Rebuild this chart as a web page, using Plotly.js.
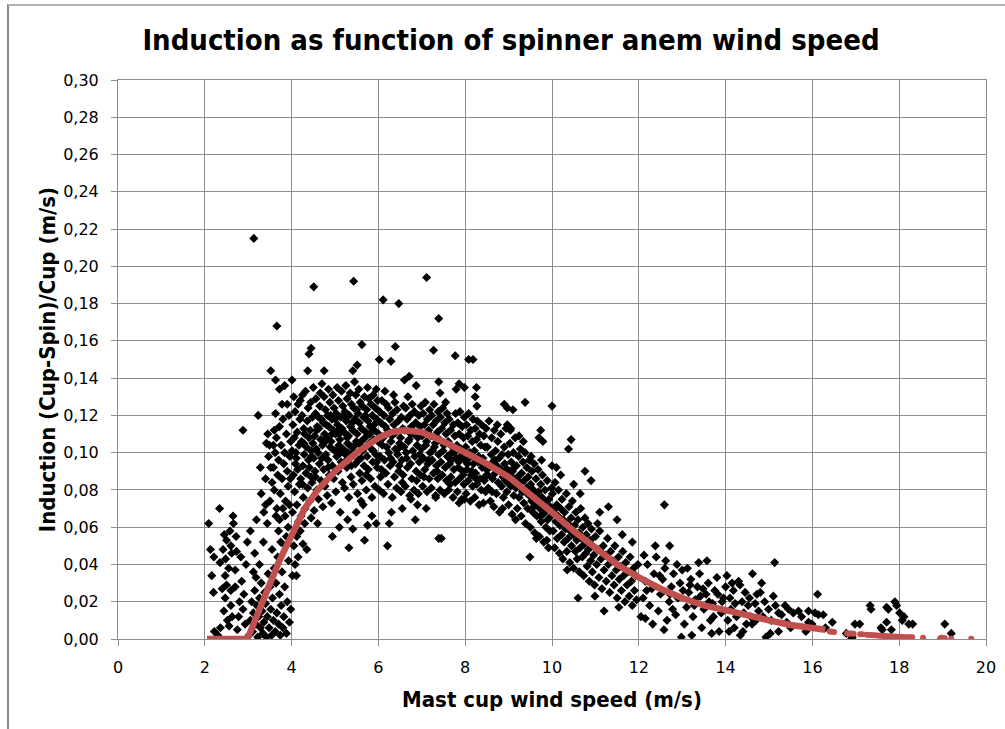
<!DOCTYPE html>
<html>
<head>
<meta charset="utf-8">
<script src="https://cdn.plot.ly/plotly-3.0.1.min.js"></script>
<style>
html,body{margin:0;padding:0;background:#fff;}
#wrap{position:relative;width:1005px;height:729px;}
#chart{position:absolute;left:0;top:0;width:1005px;height:729px;}
#frame{position:absolute;left:7px;top:4px;width:1000px;height:730px;border-left:2px solid #8a8a8a;border-top:2px solid #b4b4b4;pointer-events:none;}
</style>
</head>
<body>
<div id="wrap"><div id="chart"></div><div id="frame"></div></div>
<script>
// ---- measured points: [mast cup wind speed (m/s), induction] ----
const lowSpeedPts = [[2.09,0.062],[2.34,0.070],[2.65,0.066],[2.88,0.112],[2.13,0.048],[2.21,0.044],[2.50,0.053],[2.45,0.056],[2.58,0.058],[2.72,0.055],[2.60,0.050],[2.62,0.046],[2.73,0.047],[2.48,0.043],[2.35,0.041],[2.55,0.038],[2.70,0.037],[2.16,0.034],[2.47,0.034],[2.50,0.029],[2.40,0.027],[2.60,0.026],[2.70,0.028],[2.47,0.022],[2.60,0.018],[2.44,0.015],[2.63,0.012],[2.52,0.010],[2.78,0.012],[2.36,0.006],[2.30,0.002],[2.22,0.004],[2.80,0.020],[2.85,0.031],[2.90,0.024],[2.93,0.008],[2.75,0.005],[2.88,0.016],[2.20,0.025],[2.42,0.048],[2.66,0.062],[2.95,0.040],[2.98,0.052],[2.83,0.044],[2.56,0.007]];
const rampPts = [[3.02,0.002],[3.05,0.010],[3.08,0.020],[3.10,0.004],[3.12,0.014],[3.15,0.026],[3.17,0.008],[3.18,0.033],[3.20,0.018],[3.22,0.001],[3.24,0.012],[3.26,0.022],[3.28,0.006],[3.30,0.030],[3.32,0.015],[3.34,0.003],[3.36,0.009],[3.38,0.025],[3.40,0.019],[3.42,0.001],[3.44,0.012],[3.46,0.035],[3.48,0.006],[3.50,0.028],[3.52,0.016],[3.54,0.002],[3.56,0.022],[3.58,0.010],[3.60,0.038],[3.62,0.004],[3.64,0.030],[3.66,0.014],[3.68,0.044],[3.70,0.008],[3.72,0.024],[3.74,0.002],[3.76,0.018],[3.78,0.036],[3.80,0.006],[3.82,0.012],[3.84,0.028],[3.86,0.050],[3.88,0.003],[3.90,0.020],[3.93,0.042],[3.95,0.009],[3.98,0.016],[4.02,0.034],[3.26,0.040],[3.15,0.046],[3.35,0.052],[3.05,0.058],[3.44,0.062],[3.12,0.036],[3.55,0.048],[3.70,0.058],[3.92,0.060],[3.80,0.070],[3.64,0.066],[3.50,0.074],[3.60,0.080],[3.40,0.072],
[3.55,0.084],[3.58,0.092],[3.62,0.100],[3.65,0.108],[3.68,0.088],[3.70,0.096],[3.72,0.114],[3.74,0.078],[3.76,0.104],[3.78,0.086],[3.80,0.118],[3.82,0.094],[3.84,0.100],[3.86,0.074],[3.88,0.110],[3.90,0.090],[3.92,0.082],[3.94,0.120],[3.96,0.098],[3.98,0.106],[3.60,0.112],[3.66,0.070],[3.72,0.064],[3.85,0.066],[3.95,0.072],[3.88,0.055],[3.75,0.052],[3.97,0.086],[3.63,0.121],[3.78,0.126],[3.90,0.126],[3.47,0.098],[3.40,0.086],[3.52,0.092],[3.45,0.110],[3.58,0.104],[3.19,0.064],[3.42,0.105],[3.49,0.104],[3.30,0.078],[3.36,0.068],[3.28,0.092],[3.23,0.120]];
const plateauPtsA = [[4.02,0.068],[4.07,0.079],[4.04,0.088],[4.09,0.094],[4.01,0.101],[4.06,0.108],[4.03,0.115],[4.08,0.122],[4.05,0.130],
[4.12,0.072],[4.18,0.083],[4.14,0.091],[4.11,0.097],[4.17,0.104],[4.13,0.111],[4.19,0.118],[4.15,0.126],[4.16,0.063],
[4.22,0.066],[4.27,0.076],[4.21,0.086],[4.26,0.093],[4.29,0.099],[4.23,0.106],[4.28,0.113],[4.24,0.120],[4.20,0.128],[4.25,0.131],
[4.31,0.070],[4.37,0.081],[4.33,0.089],[4.39,0.096],[4.34,0.103],[4.30,0.110],[4.36,0.117],[4.38,0.124],[4.32,0.133],
[4.42,0.074],[4.47,0.084],[4.41,0.092],[4.46,0.098],[4.49,0.105],[4.43,0.112],[4.48,0.119],[4.44,0.127],[4.45,0.087],
[4.52,0.069],[4.58,0.080],[4.54,0.090],[4.51,0.097],[4.57,0.102],[4.53,0.109],[4.59,0.114],[4.55,0.121],[4.56,0.129],[4.50,0.135],
[4.62,0.075],[4.68,0.085],[4.64,0.094],[4.61,0.100],[4.67,0.107],[4.63,0.113],[4.69,0.118],[4.65,0.125],[4.66,0.132],
[4.72,0.071],[4.77,0.082],[4.74,0.091],[4.79,0.099],[4.71,0.104],[4.76,0.110],[4.73,0.116],[4.78,0.123],[4.75,0.130],[4.70,0.137],
[4.82,0.077],[4.87,0.088],[4.84,0.096],[4.89,0.103],[4.81,0.108],[4.86,0.114],[4.83,0.120],[4.88,0.127],[4.85,0.134],
[4.92,0.073],[4.97,0.086],[4.94,0.093],[4.99,0.101],[4.91,0.106],[4.96,0.112],[4.93,0.118],[4.98,0.124],[4.95,0.131],[4.90,0.120],
[5.02,0.079],[5.07,0.090],[5.04,0.098],[5.09,0.104],[5.01,0.110],[5.06,0.115],[5.03,0.121],[5.08,0.128],[5.05,0.135],
[5.12,0.068],[5.17,0.084],[5.14,0.095],[5.19,0.102],[5.11,0.107],[5.16,0.113],[5.13,0.119],[5.18,0.125],[5.15,0.133],[5.10,0.110],
[5.22,0.081],[5.27,0.092],[5.24,0.099],[5.29,0.105],[5.21,0.111],[5.26,0.117],[5.23,0.122],[5.28,0.129],[5.25,0.136],
[5.32,0.076],[5.37,0.087],[5.34,0.097],[5.39,0.103],[5.31,0.109],[5.36,0.114],[5.33,0.120],[5.38,0.126],[5.35,0.132],[5.30,0.100],
[5.42,0.083],[5.47,0.094],[5.44,0.100],[5.49,0.106],[5.41,0.112],[5.46,0.118],[5.43,0.124],[5.48,0.131],[5.45,0.138],
[5.52,0.078],[5.57,0.089],[5.54,0.096],[5.59,0.104],[5.51,0.110],[5.56,0.116],[5.53,0.121],[5.58,0.127],[5.55,0.134],
[5.62,0.085],[5.67,0.093],[5.64,0.101],[5.69,0.108],[5.61,0.113],[5.66,0.119],[5.63,0.125],[5.68,0.130],[5.65,0.072],
[5.72,0.080],[5.77,0.091],[5.74,0.098],[5.79,0.105],[5.71,0.111],[5.76,0.117],[5.73,0.123],[5.78,0.129],[5.75,0.135],
[5.82,0.086],[5.87,0.095],[5.84,0.102],[5.89,0.107],[5.81,0.114],[5.86,0.120],[5.83,0.126],[5.88,0.131],[5.85,0.076],
[5.92,0.082],[5.97,0.092],[5.94,0.099],[5.99,0.106],[5.91,0.112],[5.96,0.118],[5.93,0.124],[5.98,0.128],[5.95,0.134],
[4.10,0.100],[4.28,0.105],[4.40,0.108],[4.58,0.112],[4.70,0.097],[4.80,0.115],[4.93,0.110],[5.00,0.118],[5.08,0.112],[5.20,0.120],[5.28,0.108],[5.40,0.116],[5.50,0.123],[5.60,0.106],[5.70,0.120],[5.80,0.110],[5.90,0.115],[4.45,0.101],[4.62,0.119],[4.84,0.092],[5.13,0.100],[5.38,0.093],[5.60,0.097],[5.88,0.101],[4.25,0.083],[4.55,0.087],[4.78,0.106],[5.02,0.101],[5.22,0.095],[5.46,0.104],[5.72,0.088],[5.96,0.095],
[4.05,0.050],[4.15,0.044],[4.20,0.058],[4.30,0.062],[4.45,0.065],[4.60,0.062],[4.12,0.055],[4.08,0.040]];
const plateauPtsB = [[6.02,0.080],[6.07,0.091],[6.04,0.098],[6.09,0.104],[6.01,0.110],[6.06,0.116],[6.03,0.122],[6.08,0.128],[6.05,0.087],
[6.12,0.078],[6.17,0.089],[6.14,0.096],[6.19,0.103],[6.11,0.108],[6.16,0.114],[6.13,0.120],[6.18,0.126],[6.15,0.133],
[6.22,0.083],[6.27,0.093],[6.24,0.100],[6.29,0.106],[6.21,0.112],[6.26,0.118],[6.23,0.124],[6.28,0.097],[6.25,0.062],
[6.32,0.076],[6.37,0.087],[6.34,0.095],[6.39,0.102],[6.31,0.109],[6.36,0.115],[6.33,0.121],[6.38,0.127],[6.35,0.131],
[6.42,0.081],[6.47,0.090],[6.44,0.099],[6.49,0.105],[6.41,0.111],[6.46,0.117],[6.43,0.123],[6.48,0.093],[6.45,0.102],
[6.52,0.079],[6.57,0.088],[6.54,0.096],[6.59,0.103],[6.51,0.108],[6.56,0.113],[6.53,0.119],[6.58,0.125],[6.55,0.084],
[6.62,0.082],[6.67,0.092],[6.64,0.100],[6.69,0.106],[6.61,0.112],[6.66,0.118],[6.63,0.124],[6.68,0.130],[6.65,0.097],
[6.72,0.077],[6.77,0.086],[6.74,0.094],[6.79,0.101],[6.71,0.107],[6.76,0.114],[6.73,0.120],[6.78,0.126],[6.75,0.110],
[6.82,0.080],[6.87,0.090],[6.84,0.098],[6.89,0.104],[6.81,0.110],[6.86,0.116],[6.83,0.122],[6.88,0.085],[6.85,0.064],
[6.92,0.078],[6.97,0.088],[6.94,0.095],[6.99,0.102],[6.91,0.108],[6.96,0.114],[6.93,0.120],[6.98,0.125],[6.95,0.099],
[7.02,0.082],[7.07,0.091],[7.04,0.097],[7.09,0.104],[7.01,0.109],[7.06,0.115],[7.03,0.121],[7.08,0.127],[7.05,0.087],
[7.12,0.079],[7.17,0.086],[7.14,0.094],[7.19,0.100],[7.11,0.106],[7.16,0.112],[7.13,0.118],[7.18,0.123],[7.15,0.096],
[7.22,0.081],[7.27,0.089],[7.24,0.096],[7.29,0.103],[7.21,0.109],[7.26,0.115],[7.23,0.120],[7.28,0.126],[7.25,0.101],
[7.32,0.077],[7.37,0.086],[7.34,0.093],[7.39,0.099],[7.31,0.105],[7.36,0.111],[7.33,0.117],[7.38,0.122],[7.35,0.090],
[7.42,0.080],[7.47,0.088],[7.44,0.095],[7.49,0.101],[7.41,0.107],[7.46,0.113],[7.43,0.119],[7.48,0.124],[7.45,0.054],
[7.52,0.078],[7.57,0.085],[7.54,0.092],[7.59,0.098],[7.51,0.104],[7.56,0.110],[7.53,0.116],[7.58,0.121],[7.55,0.127],
[7.62,0.080],[7.67,0.087],[7.64,0.094],[7.69,0.100],[7.61,0.106],[7.66,0.112],[7.63,0.118],[7.68,0.096],[7.65,0.083],
[7.72,0.076],[7.77,0.084],[7.74,0.091],[7.79,0.097],[7.71,0.103],[7.76,0.109],[7.73,0.115],[7.78,0.121],[7.75,0.100],
[7.82,0.079],[7.87,0.086],[7.84,0.092],[7.89,0.098],[7.81,0.104],[7.86,0.110],[7.83,0.116],[7.88,0.122],[7.85,0.095],
[7.92,0.075],[7.97,0.083],[7.94,0.090],[7.99,0.096],[7.91,0.102],[7.96,0.108],[7.93,0.114],[7.98,0.119],[7.95,0.088],
[8.02,0.078],[8.07,0.085],[8.04,0.091],[8.09,0.097],[8.01,0.103],[8.06,0.109],[8.03,0.115],[8.08,0.121],[8.05,0.094],
[8.12,0.074],[8.17,0.082],[8.14,0.088],[8.19,0.094],[8.11,0.100],[8.16,0.106],[8.13,0.112],[8.18,0.118],[8.15,0.090],
[8.22,0.076],[8.27,0.083],[8.24,0.089],[8.29,0.095],[8.21,0.101],[8.26,0.107],[8.23,0.113],[8.28,0.117],[8.25,0.086],
[8.32,0.072],[8.37,0.080],[8.34,0.086],[8.39,0.092],[8.31,0.098],[8.36,0.104],[8.33,0.110],[8.38,0.115],[8.35,0.095],
[8.42,0.073],[8.47,0.079],[8.44,0.085],[8.49,0.091],[8.41,0.097],[8.46,0.103],[8.43,0.109],[8.48,0.113],[8.45,0.087],
[5.29,0.064],[5.41,0.059],[5.49,0.068],[5.75,0.061],[5.95,0.062],[6.75,0.075],[7.32,0.076],[7.86,0.073],[7.98,0.075],[5.10,0.060],[5.85,0.066],[6.30,0.068],[6.55,0.070],[7.10,0.070],[6.90,0.072],[5.60,0.074]];
const declinePtsA = [[8.51,0.103],[8.53,0.081],[8.55,0.117],[8.56,0.092],[8.58,0.074],[8.60,0.099],[8.61,0.108],[8.63,0.086],[8.64,0.095],[8.66,0.071],[8.67,0.112],[8.69,0.089],[8.70,0.101],[8.72,0.078],[8.73,0.093],[8.75,0.106],[8.76,0.084],[8.78,0.097],[8.79,0.068],[8.81,0.090],[8.82,0.110],[8.84,0.082],[8.85,0.099],[8.87,0.087],[8.88,0.076],[8.90,0.103],[8.91,0.094],[8.93,0.085],[8.94,0.113],[8.96,0.079],[8.97,0.091],[8.99,0.099],[9.00,0.072],[9.02,0.088],[9.03,0.105],[9.05,0.082],[9.06,0.095],[9.08,0.067],[9.09,0.090],[9.11,0.100],[9.12,0.077],[9.14,0.086],[9.15,0.108],[9.17,0.081],[9.18,0.093],[9.20,0.070],[9.21,0.087],[9.23,0.098],[9.24,0.076],[9.26,0.084],[9.27,0.102],[9.29,0.066],[9.30,0.089],[9.32,0.079],[9.33,0.095],[9.35,0.073],[9.36,0.085],[9.38,0.100],[9.39,0.062],[9.41,0.081],[9.42,0.092],[9.44,0.070],[9.45,0.087],[9.47,0.077],[9.48,0.096],[9.50,0.060],[9.51,0.083],[9.53,0.074],[9.54,0.090],[9.56,0.068],[9.57,0.080],[9.59,0.094],[9.60,0.057],[9.62,0.077],[9.63,0.086],[9.65,0.066],[9.66,0.072],[9.68,0.091],[9.69,0.079],[9.71,0.055],[9.72,0.070],[9.74,0.083],[9.75,0.063],[9.77,0.076],[9.78,0.088],[9.80,0.067],[9.81,0.052],[9.83,0.073],[9.84,0.080],[9.86,0.060],[9.87,0.069],[9.89,0.085],[9.90,0.064],[9.92,0.049],[9.93,0.075],[9.95,0.058],[9.96,0.071],[9.98,0.066],[9.99,0.081],[8.62,0.079],[8.74,0.115],[8.86,0.070],[9.04,0.112],[9.16,0.064],[9.34,0.106],[9.52,0.098],[9.64,0.054],[9.76,0.096],[9.88,0.053],[8.52,0.088],[8.68,0.096],[8.83,0.091],[8.98,0.084],[9.13,0.092],[9.28,0.081],[9.43,0.078],[9.58,0.071],[9.73,0.066],[9.94,0.070]];
const declinePtsB = [[10.01,0.078],[10.03,0.058],[10.04,0.069],[10.06,0.049],[10.07,0.084],[10.09,0.063],[10.11,0.072],[10.12,0.054],[10.14,0.066],[10.15,0.080],[10.17,0.046],[10.18,0.061],[10.20,0.070],[10.22,0.056],[10.23,0.075],[10.25,0.043],[10.26,0.064],[10.28,0.052],[10.29,0.068],[10.31,0.059],[10.33,0.078],[10.34,0.047],[10.36,0.062],[10.37,0.054],[10.39,0.071],[10.41,0.041],[10.42,0.058],[10.44,0.065],[10.45,0.050],[10.47,0.074],[10.49,0.056],[10.50,0.038],[10.52,0.061],[10.54,0.047],[10.55,0.068],[10.57,0.053],[10.58,0.043],[10.60,0.064],[10.62,0.057],[10.63,0.036],[10.65,0.049],[10.66,0.070],[10.68,0.054],[10.70,0.044],[10.71,0.060],[10.73,0.034],[10.75,0.051],[10.76,0.065],[10.78,0.046],[10.79,0.056],[10.81,0.039],[10.83,0.062],[10.84,0.048],[10.86,0.031],[10.88,0.053],[10.89,0.042],[10.91,0.059],[10.93,0.036],[10.94,0.050],[10.96,0.045],[10.98,0.029],[11.00,0.055],[11.03,0.040],[11.05,0.048],[11.08,0.033],[11.10,0.058],[11.13,0.043],[11.15,0.027],[11.18,0.050],[11.20,0.037],[11.23,0.045],[11.25,0.031],[11.28,0.054],[11.30,0.040],[11.33,0.025],[11.35,0.047],[11.38,0.034],[11.40,0.042],[11.43,0.029],[11.45,0.050],[11.48,0.037],[11.50,0.022],[11.53,0.044],[11.55,0.032],[11.58,0.039],[11.60,0.026],[11.63,0.047],[11.65,0.034],[11.68,0.020],[11.70,0.041],[11.73,0.029],[11.75,0.036],[11.78,0.023],[11.80,0.044],[11.83,0.031],[11.85,0.018],[11.88,0.038],[11.90,0.026],[11.93,0.034],[11.95,0.021],[11.98,0.040],
[10.20,0.088],[10.50,0.083],[11.30,0.071],[11.50,0.064],[11.10,0.068],[11.20,0.015],[10.60,0.022],[10.10,0.092],[10.65,0.078],[11.05,0.062],[11.62,0.056],[11.85,0.052]];
const tailPtsA = [[12.05,0.012],[12.10,0.022],[12.15,0.031],[12.20,0.040],[12.25,0.018],[12.30,0.027],[12.35,0.035],[12.40,0.044],[12.45,0.015],[12.50,0.024],[12.55,0.032],[12.60,0.038],[12.65,0.010],[12.70,0.020],[12.75,0.028],[12.80,0.035],[12.85,0.013],[12.90,0.022],[12.95,0.030],[13.00,0.037],[13.05,0.008],[13.10,0.017],[13.15,0.025],[13.20,0.032],[13.25,0.012],[13.30,0.021],[13.35,0.028],[13.40,0.035],[13.45,0.006],[13.50,0.016],[13.55,0.024],[13.60,0.030],[13.65,0.010],[13.70,0.019],[13.75,0.026],[13.80,0.033],[13.85,0.004],[13.90,0.014],[13.95,0.022],[14.00,0.028],[12.12,0.045],[12.38,0.050],[12.62,0.042],[12.88,0.040],[13.12,0.038],[13.38,0.041],[13.57,0.042],[12.32,0.008],[12.58,0.005],[12.78,0.016],[13.02,0.026],[13.28,0.018],[13.48,0.027],[13.72,0.012],[13.92,0.020],[12.18,0.026],[12.48,0.034],[12.72,0.024],[13.18,0.029],[13.42,0.023],[13.62,0.020],[13.82,0.024],[13.68,0.003]];
const tailPtsB = [[14.03,0.034],[14.30,0.031],[14.33,0.029],[14.62,0.035],[14.80,0.025],[14.83,0.030],[15.10,0.023],[14.90,0.020],[15.13,0.041],[16.12,0.024],[15.37,0.018],[15.56,0.014],[15.68,0.015],[15.91,0.015],[16.06,0.014],[16.14,0.013],[16.25,0.013],[16.46,0.009],[15.22,0.014],[15.29,0.013],[15.41,0.009],[14.99,0.016],[14.76,0.015],[14.61,0.008],[14.34,0.002],[14.93,0.001],[15.03,0.003],[15.22,0.004],[15.91,0.009],[15.99,0.008],
[14.05,0.010],[14.10,0.022],[14.12,0.016],[14.18,0.026],[14.20,0.006],[14.22,0.019],[14.25,0.012],[14.38,0.020],[14.42,0.014],[14.45,0.025],[14.48,0.008],[14.52,0.018],[14.55,0.022],[14.58,0.012],[14.68,0.019],[14.70,0.010],[14.72,0.024],[14.86,0.012],[15.05,0.010],[15.15,0.018],[15.45,0.016],[15.50,0.006],[15.75,0.012],[15.85,0.004],[16.30,0.006],[14.08,0.004],[14.15,0.030],[14.40,0.004]];
const tailPtsC = [[16.98,0.008],[17.09,0.008],[16.90,0.000],[16.92,0.001],[17.33,0.018],[17.35,0.016],[17.71,0.017],[17.75,0.016],[17.58,0.006],[17.61,0.005],[17.71,0.009],[17.90,0.020],[17.94,0.018],[18.01,0.014],[18.11,0.012],[18.07,0.010],[18.22,0.008],[18.31,0.008],[17.82,0.005],[17.86,0.000],[19.05,0.008],[19.20,0.003],[18.97,0.000],[16.78,0.003]];
const outlierPts = [[3.13,0.215],[3.66,0.168],[4.51,0.189],[5.43,0.192],[6.11,0.182],[6.47,0.180],[7.11,0.194],[7.39,0.172],[5.62,0.158],[4.45,0.156],[4.40,0.153],[3.52,0.144],[3.63,0.139],[3.84,0.136],[3.72,0.134],[4.01,0.139],[4.37,0.144],[4.75,0.144],[5.41,0.144],[5.51,0.147],[6.02,0.150],[6.29,0.149],[6.39,0.157],[7.27,0.155],[7.77,0.152],[8.08,0.150],[8.18,0.150],[6.60,0.139],[6.71,0.141],[6.87,0.136],[7.39,0.138],[7.86,0.137],[7.42,0.132],[7.79,0.134],[7.98,0.135],[8.26,0.135],[8.23,0.130],[8.27,0.125],[8.90,0.126],[9.38,0.127],[10.00,0.125],[8.97,0.124],[9.10,0.123],[8.97,0.115],[9.05,0.113],[9.24,0.109],[9.74,0.112],[9.70,0.108],[9.79,0.106],[10.44,0.107],[10.38,0.102],[10.76,0.090],[10.90,0.085],[10.00,0.093],[12.59,0.072],[12.71,0.050],
[4.94,0.055],[5.68,0.053],[6.21,0.050],[5.32,0.049],[7.39,0.054],[4.11,0.034],[4.26,0.051],[4.35,0.048],[9.49,0.044],[10.35,0.037],[10.99,0.023],[11.54,0.017],[12.15,0.011],[12.98,0.001],[13.22,0.002]];

// ---- fitted induction curve (red) ----
const fitSpeed = [2.05,2.5,2.95,3.0,3.1,3.2,3.3,3.4,3.5,3.6,3.7,3.8,3.9,4.0,4.3,4.6,5.0,5.5,6.0,6.3,6.6,7.0,7.5,8.0,8.5,9.0,9.5,10.0,10.5,11.0,11.5,12.0,12.5,13.0,13.5,14.0,14.5,15.0,15.5,16.0,16.3];
const fitInduction = [0,0,0,0.001,0.007,0.013,0.019,0.025,0.031,0.036,0.041,0.046,0.051,0.057,0.070,0.080,0.090,0.100,0.108,0.111,0.112,0.111,0.106,0.100,0.094,0.087,0.078,0.068,0.058,0.049,0.040,0.033,0.027,0.022,0.018,0.0155,0.0125,0.010,0.0075,0.0058,0.005];
const fitTailSpeed = [16.4,16.45,16.5,16.8,16.85,16.9,16.95,17.1,17.15,17.25,17.3,17.35,17.4,17.45,17.5,17.55,17.6,17.65,17.7,17.75,17.8,17.85,17.9,17.95,18.0,18.05,18.1,18.15,18.2,18.25,18.3,18.55,18.95,19.0,19.05,19.2,19.66];
const fitTailInduction = [0.0040,0.0039,0.0038,0.0031,0.0030,0.0029,0.0028,0.0025,0.0025,0.0023,0.0022,0.0021,0.0020,0.0020,0.0019,0.0018,0.0017,0.0016,0.0016,0.0015,0.0014,0.0014,0.0013,0.0012,0.0012,0.0011,0.0011,0.0010,0.0010,0.0009,0.0009,0.0007,0.0005,0.0005,0.0004,0.0003,0.0002];

const xTickVals = [0,2,4,6,8,10,12,14,16,18,20];
const yTickVals = [0,0.02,0.04,0.06,0.08,0.10,0.12,0.14,0.16,0.18,0.20,0.22,0.24,0.26,0.28,0.30];

const allPts = [].concat(lowSpeedPts, rampPts, plateauPtsA, plateauPtsB, declinePtsA, declinePtsB, tailPtsA, tailPtsB, tailPtsC, outlierPts);

const red = '#C0504D';
const traces = [
  {type:'scatter', mode:'markers', x: allPts.map(p=>p[0]), y: allPts.map(p=>p[1]),
   marker:{symbol:'diamond', size:7, color:'#000'}, hoverinfo:'skip', showlegend:false},
  {type:'scatter', mode:'lines', x: fitSpeed, y: fitInduction,
   line:{color:red, width:6.5}, hoverinfo:'skip', showlegend:false},
  {type:'scatter', mode:'markers', x: fitTailSpeed, y: fitTailInduction,
   marker:{symbol:'circle', size:6, color:red}, hoverinfo:'skip', showlegend:false}
];

const tickFont = {family:'DejaVu Sans, Liberation Sans, sans-serif', size:16, color:'#000'};
const titleFamily = 'Liberation Sans Narrow, DejaVu Sans Condensed, Liberation Sans, sans-serif';

const layout = {
  width:1005, height:729,
  margin:{l:118, r:19, t:80, b:90},
  paper_bgcolor:'#fff', plot_bgcolor:'#fff',
  separators:',.',
  showlegend:false,
  title:{text:'<b>Induction as function of spinner anem wind speed</b>',
    font:{family:titleFamily, size:29, color:'#000'},
    x:511/1005, xref:'container', xanchor:'center', y:1-40/729, yref:'container', yanchor:'middle'},
  xaxis:{range:[0,20], tickvals:xTickVals, tickformat:'d',
    showgrid:true, gridcolor:'#8c8c8c', gridwidth:1,
    showline:true, linecolor:'#8c8c8c', linewidth:1, mirror:true,
    ticks:'outside', ticklen:6, tickcolor:'#8c8c8c', tickfont:tickFont, ticklabelstandoff:8,
    zeroline:false, fixedrange:true,
    title:{text:'<b>Mast cup wind speed (m/s)</b>', font:{family:titleFamily, size:22, color:'#000'}, standoff:15}},
  yaxis:{range:[0,0.30], tickvals:yTickVals, tickformat:'.2f',
    showgrid:true, gridcolor:'#8c8c8c', gridwidth:1,
    showline:true, linecolor:'#8c8c8c', linewidth:1, mirror:true,
    ticks:'outside', ticklen:6, tickcolor:'#8c8c8c', tickfont:tickFont, ticklabelstandoff:9,
    zeroline:false, fixedrange:true,
    title:{text:'<b>Induction (Cup-Spin)/Cup (m/s)</b>', font:{family:titleFamily, size:22, color:'#000'}, standoff:1}}
};

Plotly.newPlot('chart', traces, layout, {staticPlot:true, displayModeBar:false});
</script>
</body>
</html>
